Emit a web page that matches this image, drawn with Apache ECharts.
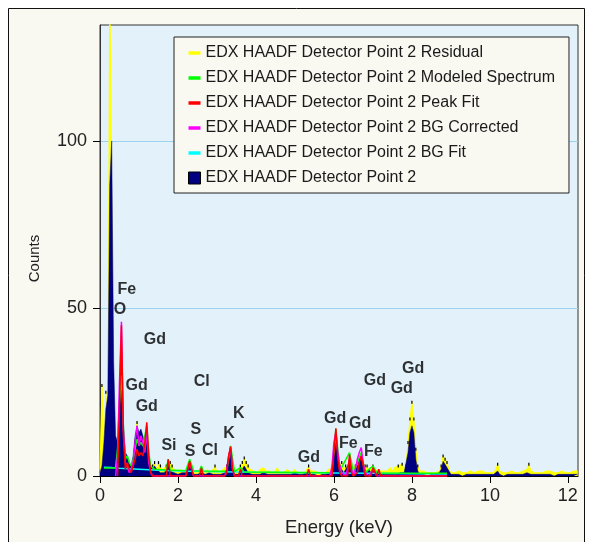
<!DOCTYPE html>
<html><head><meta charset="utf-8">
<script src="https://cdn.jsdelivr.net/npm/echarts@6/dist/echarts.min.js"></script>
<style>html,body{margin:0;padding:0;background:#fff;}#chart{width:590px;height:542px;}</style>
</head><body><div id="chart"></div>
<script>
// channel width of the spectrum (keV)
const energyStep = 0.05;

// EDX HAADF Detector Point 2 (raw counts), one value per channel from 0 keV
const pointCounts = [
  1, 3, 10, 20, 24, 87, 100, 34, 12, 10,
  24, 40, 14, 7, 6, 4, 3, 6, 12, 15,
  13, 14, 12, 9, 13, 6, 3, 2, 3, 2,
  2, 1, 1.5, 1, 2, 3, 1.5, 2, 1, 1,
  0.5, 0.5, 1, 0.5, 1, 2, 3, 2, 0.5, 0.5,
  0.5, 0.5, 1, 0.5, 0.5, 0.5, 1, 0.5, 0.5, 1,
  0.5, 0.5, 0.5, 0.5, 1, 2, 5, 7, 2, 0.5,
  0.5, 0.5, 1, 2, 3, 2, 1, 0.5, 0.5, 0.5,
  0.5, 0, 0.5, 0.5, 1, 0.5, 0.5, 0, 0.5, 0.5,
  0.5, 1, 0.5, 0.5, 0.5, 0, 0.5, 0.5, 0.5, 0.5,
  1, 0.5, 0.5, 0.5, 0.5, 0.5, 1, 1.5, 0.5, 0.5,
  0.5, 0.5, 0, 0.5, 0.5, 0.5, 0.5, 0.5, 1, 2,
  6, 10, 6, 3, 2, 1, 2, 3, 5, 2,
  1, 2, 3, 5, 6, 4, 2, 1, 2, 1,
  1, 2, 1, 0.5, 0.5, 0.5, 0.5, 0.5, 0.5, 1,
  0.5, 1, 0.5, 1, 1, 1.5, 1, 1.5, 7, 13,
  15, 13, 5, 1.5, 0.5, 0.5, 0.5, 0.5, 0, 0.5,
  0.5, 0.5, 0.5, 0.5, 1, 2, 4.4, 3.5, 2.5, 1.5,
  0.5, 0.5, 0.5, 0, 0.5, 0.5, 0, 0.5, 0.5, 0.5,
  0.5, 1, 0.5, 0, 0.5, 0.5, 0.5, 0, 0.5, 0.5,
  0.5, 0.5, 0.5, 1, 1.5, 0.5, 0.5, 0, 0.5, 0.5,
  0.5, 0.5, 0, 0.5, 0.5, 0.5, 0.5, 0.5, 0.5, 1,
  1.5, 0.5, 0.5, 0.5, 0, 0.5, 0.5, 0.5, 0.5, 0.5,
  0.5, 0.5, 0.5, 0, 0.5, 0.5, 0.5, 0.5, 0.5, 0.5,
  0.5, 0.5, 0.5, 0.5, 0.5, 0.5
];

// Residual, one value per channel from 0 keV
const residualCounts = [
  2, 27, 6, 25, 10, 150, 150, 12, 4, 6,
  8, 10, 5, 3, 4, 3, 2, 4, 10, 16,
  8, 11, 9, 5, 8, 3, 2, 3, 4, 2,
  4, 3, 2, 2, 3, 3, 4, 3, 2, 2,
  1, 2, 1, 1, 2, 2, 3, 2, 1, 1,
  1, 2, 1, 1, 1, 2, 1, 1, 2, 3,
  1, 1, 1, 2, 2, 3, 4, 6, 3, 2,
  1, 2, 3, 4, 5.4, 4, 3, 2, 2, 1.5,
  1.5, 1, 2, 1.5, 2.5, 1.5, 1, 1.5, 2, 1,
  1.5, 2.5, 1, 1.5, 1, 1, 2, 1.5, 1, 1.5,
  2, 1, 1.5, 1, 1.5, 1, 2, 3, 1.5, 1,
  1.5, 1, 1, 1.5, 1, 1.5, 1, 2, 1.5, 2,
  5, 4, 5, 3, 4, 2, 3, 2, 3, 4,
  2, 3, 4, 3, 2, 4, 3, 3, 2, 2,
  3, 2, 2, 1.5, 1, 1.5, 1, 1.5, 2, 2.5,
  1.5, 2.5, 2, 3, 2.5, 3.5, 2, 3, 10, 17,
  22, 17, 8, 3, 1.5, 1, 1.5, 1, 1, 1.5,
  1, 1.5, 1, 1, 1.5, 3, 6, 5, 4, 2,
  1, 1.5, 1, 1, 1.5, 1, 1, 1.5, 1, 1,
  1.5, 2, 1, 1, 1.5, 1, 1.5, 1, 1, 1.5,
  1, 1.5, 1, 2, 3.5, 1.5, 1, 1, 1.5, 1,
  1, 1.5, 1, 1, 1.5, 1, 1, 1.5, 1, 2,
  3.5, 1.5, 1, 1, 1.5, 1, 1.5, 1, 1, 1.5,
  1, 1.5, 1, 1, 1.5, 1, 1, 1.5, 1, 1,
  1.5, 1, 1, 1.5, 1, 1.5
];

// BG Fit: [energy keV, counts]
const bgFit = [[0.1,2.6],[0.3,2.5],[0.5,2.3],[1,2],[1.5,1.7],[2,1.5],[3,1.3],[4,1.1],[5,1],[6,0.9],[7,0.8],[8,0.7],[8.9,0.6]];

// BG Corrected: [energy keV, counts]
const bgCorrected = [[0.4,0],[0.45,6],[0.5,28],[0.55,46],[0.6,14],[0.65,4],[0.7,3],[0.75,1],[0.8,2],[0.85,4],[0.9,10],[0.95,15],[1.0,9],[1.05,12],[1.1,10],[1.15,7],[1.2,13],[1.25,4],[1.3,1],[1.35,0],[2.2,0],[2.25,2],[2.3,3.5],[2.35,2],[2.4,0],[3.2,0],[3.25,2],[3.3,6],[3.35,8.5],[3.4,2],[3.45,0],[5.9,0],[5.95,3],[6.0,10],[6.05,13],[6.1,7],[6.15,3],[6.2,1],[6.3,0],[6.35,2],[6.4,5],[6.45,2],[6.5,0],[6.55,2],[6.6,5],[6.65,7],[6.7,8.5],[6.75,4],[6.8,1],[6.9,0],[7.0,2],[7.05,1],[7.1,0],[8.9,0]];

// Peak Fit: [energy keV, counts]
const peakFit = [[0.45,0],[0.5,20],[0.55,45],[0.6,12],[0.65,2],[0.7,4],[0.75,2],[0.8,1],[0.85,3],[0.9,5],[0.95,8],[1.0,6],[1.05,7],[1.1,6],[1.15,10],[1.2,16],[1.25,6],[1.3,1],[1.35,0],[1.7,0],[1.75,5],[1.8,0],[2.2,0],[2.25,2],[2.3,4.4],[2.35,2],[2.4,0],[2.55,0],[2.6,2.4],[2.65,0],[3.2,0],[3.25,1],[3.3,6],[3.35,8.8],[3.4,2],[3.45,0],[3.55,0],[3.6,2],[3.65,0],[5.3,0],[5.35,2],[5.4,0],[5.95,0],[6.0,7],[6.05,14.2],[6.1,5],[6.15,1],[6.2,0],[6.35,0],[6.4,6.4],[6.45,1],[6.5,0],[6.6,1],[6.65,4],[6.7,6],[6.75,3],[6.8,0],[6.95,0],[7.0,2.5],[7.05,2.5],[7.1,0],[7.15,2],[7.2,0],[8.9,0]];

// Modeled Spectrum: [energy keV, counts]
const modeled = [[0.1,2.4],[0.4,2.4],[0.45,8],[0.5,22],[0.55,30],[0.6,15],[0.65,5],[0.7,6],[0.75,4],[0.8,3],[0.85,5],[0.9,8],[0.95,11],[1.0,9],[1.05,10],[1.1,9],[1.15,12],[1.2,15],[1.25,7],[1.3,3],[1.4,2],[1.7,1.8],[1.75,5],[1.8,1.8],[2.2,1.6],[2.3,5],[2.4,1.6],[2.55,1.5],[2.6,3],[2.65,1.5],[3.25,1.4],[3.35,9],[3.45,1.3],[3.6,2.5],[3.7,1.2],[5.95,1],[6.05,14],[6.15,1.5],[6.4,7],[6.5,1],[6.7,7],[6.8,1],[7.0,3],[7.1,0.9],[8.9,0.8]];

// element line labels
const labelNames    = ['Fe','O','Gd','Gd','Gd','Si','Cl','S','K','K','S','Cl','Gd','Gd','Gd','Fe','Fe','Gd','Gd','Gd'];
const labelEnergies = [0.69,0.51,1.41,0.94,1.20,1.77,2.61,2.46,3.56,3.31,2.31,2.82,5.36,6.03,6.67,6.37,7.01,7.05,7.74,8.03];
const labelHeights  = [55.5,49.6,40.7,26.9,20.7,9.2,28.1,13.8,18.7,12.6,7.4,7.5,5.4,17.2,15.7,9.8,7.4,28.6,26.1,32.0];

const xTicks = [0, 2, 4, 6, 8, 10, 12];
const yTicks = [0, 50, 100];

const N_P2 = 'EDX HAADF Detector Point 2';
const N_RES = 'EDX HAADF Detector Point 2 Residual';
const N_MOD = 'EDX HAADF Detector Point 2 Modeled Spectrum';
const N_PK = 'EDX HAADF Detector Point 2 Peak Fit';
const N_BGC = 'EDX HAADF Detector Point 2 BG Corrected';
const N_BGF = 'EDX HAADF Detector Point 2 BG Fit';

const toPairs = arr => arr.map((v, i) => [+(i * energyStep).toFixed(2), v]);
const lineIcon = 'path://M0,0H12V3.5H0Z';
const FONT = 'Liberation Sans';

const chart = echarts.init(document.getElementById('chart'), null, {renderer: 'canvas'});
chart.setOption({
  animation: false,
  backgroundColor: '#ffffff',
  textStyle: {fontFamily: FONT},
  graphic: [{
    type: 'rect', z: -100, silent: true,
    shape: {x: 8.5, y: 8.5, width: 576, height: 545},
    style: {fill: '#f9f9f2', stroke: '#111', lineWidth: 1}
  }],
  grid: {left: 100, top: 25, right: 12, bottom: 62, show: true,
         backgroundColor: '#e2f1fa', borderColor: '#333', borderWidth: 1},
  legend: {
    orient: 'vertical', left: 174, top: 37,
    padding: [7, 14, 6, 14],
    itemWidth: 12, itemHeight: 12, itemGap: 7,
    backgroundColor: '#f9f9f2', borderColor: '#222', borderWidth: 1,
    textStyle: {fontSize: 16, lineHeight: 18, color: '#1a1a1a', fontFamily: FONT},
    data: [
      {name: N_RES, icon: lineIcon, itemStyle: {color: '#ffff00'}},
      {name: N_MOD, icon: lineIcon, itemStyle: {color: '#00ff00'}},
      {name: N_PK, icon: lineIcon, itemStyle: {color: '#ff0000'}},
      {name: N_BGC, icon: lineIcon, itemStyle: {color: '#ff00ff'}},
      {name: N_BGF, icon: lineIcon, itemStyle: {color: '#00ffff'}},
      {name: N_P2, icon: 'rect', itemStyle: {color: '#000080', borderColor: '#000', borderWidth: 1}}
    ]
  },
  xAxis: {
    type: 'value', min: 0, max: 12.26,
    name: 'Energy (keV)', nameLocation: 'middle', nameGap: 42,
    nameTextStyle: {fontSize: 18.5, color: '#222', fontFamily: FONT},
    axisLine: {show: true, onZero: false, lineStyle: {color: '#000', width: 1}},
    axisTick: {show: true, length: 7, customValues: xTicks, lineStyle: {color: '#000'}},
    axisLabel: {show: true, margin: 11, fontSize: 18, color: '#222', customValues: xTicks},
    splitLine: {show: false}
  },
  yAxis: {
    type: 'value', min: 0, max: 134.6, interval: 50,
    name: 'Counts', nameLocation: 'middle', nameGap: 58, nameRotate: 90,
    nameTextStyle: {fontSize: 15, color: '#222', fontFamily: FONT, padding: [0, 16, 0, 0]},
    axisLine: {show: true, lineStyle: {color: '#333', width: 1}},
    axisTick: {show: true, length: 7, customValues: yTicks, lineStyle: {color: '#000'}},
    axisLabel: {show: true, margin: 13, fontSize: 18, color: '#222', customValues: yTicks},
    splitLine: {show: true, lineStyle: {color: '#9bd2ee', width: 1}}
  },
  series: [
    {name: N_RES, type: 'line', data: toPairs(residualCounts), color: '#ffff00',
     symbol: 'rect', showSymbol: true,
     symbolSize: v => (v[1] >= 3 && v[1] < 140) ? [1.2, 3] : 0,
     itemStyle: {color: '#000'},
     lineStyle: {width: 1, color: '#ffff00'}, areaStyle: {color: '#ffff00', opacity: 1}, z: 1},
    {name: N_P2, type: 'line', data: toPairs(pointCounts), color: '#000080',
     showSymbol: false, symbol: 'none', lineStyle: {width: 0.5, color: '#000080'},
     areaStyle: {color: '#000080', opacity: 1}, z: 2},
    {name: N_BGF, type: 'line', data: bgFit, color: '#00ffff', symbol: 'none',
     lineStyle: {width: 1.5, color: '#00ffff'}, z: 3},
    {name: N_MOD, type: 'line', data: modeled, color: '#00ff00', symbol: 'none',
     lineStyle: {width: 1.5, color: '#00ff00'}, z: 4},
    {name: N_BGC, type: 'line', data: bgCorrected, color: '#ff00ff', symbol: 'none',
     lineStyle: {width: 1.5, color: '#ff00ff'}, z: 5},
    {name: N_PK, type: 'line', data: peakFit, color: '#ff0000', symbol: 'none',
     lineStyle: {width: 1.5, color: '#ff0000'}, z: 6},
    {name: 'labels', type: 'scatter', symbolSize: 0, silent: true, z: 10,
     data: labelNames.map((n, i) => ({name: n, value: [labelEnergies[i], labelHeights[i]]})),
     label: {show: true, position: 'inside', formatter: p => p.name,
             fontSize: 16, fontWeight: 'bold', color: '#000', fontFamily: FONT}}
  ]
});
</script>
</body></html>
